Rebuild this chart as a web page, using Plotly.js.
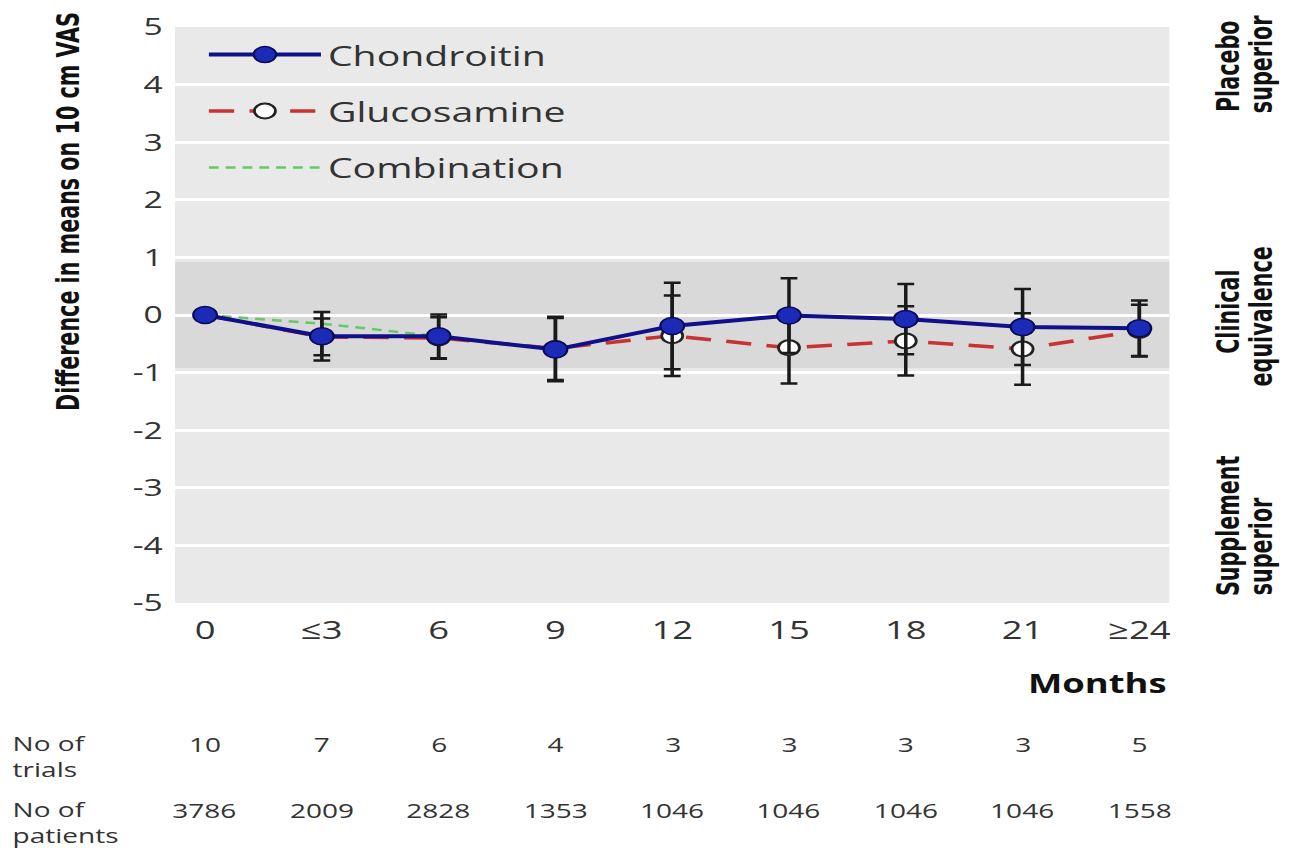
<!DOCTYPE html>
<html><head><meta charset="utf-8">
<script src="https://cdn.plot.ly/plotly-3.0.1.min.js"></script>
<style>
html,body{margin:0;padding:0;background:#fff;overflow:hidden;}
#wrap{width:1315px;height:848px;overflow:hidden;}
#chart{width:939px;height:848px;transform:scaleX(1.40043);transform-origin:0 0;}
</style></head><body><div id="wrap"><div id="chart"></div></div>
<script>
// ---- data ----
const monthLabels = ['0', '≤3', '6', '9', '12', '15', '18', '21', '≥24'];
const chondroitinMean = [0, -0.37, -0.37, -0.60, -0.19, -0.01, -0.07, -0.21, -0.23];
const chondroitinCI   = [0, 0.42, 0.38, 0.55, 0.75, 0.65, 0.61, 0.66, 0.48];
const glucosamineMean = [0, -0.38, -0.40, -0.58, -0.36, -0.57, -0.45, -0.59, -0.27];
const glucosamineCI   = [0, 0.32, 0.36, 0.55, 0.70, 0.62, 0.60, 0.62, 0.45];
const combinationMonths = ['0', '≤3', '6'];
const combinationMean = [0, -0.15, -0.37];
const trials   = [10, 7, 6, 4, 3, 3, 3, 3, 5];
const patients = [3786, 2009, 2828, 1353, 1046, 1046, 1046, 1046, 1558];
const yTickVals = [5, 4, 3, 2, 1, 0, -1, -2, -3, -4, -5];
const yTickText = ['5', '4', '3', '2', '1', '0', '-1', '-2', '-3', '-4', '-5'];

// ---- styles ----
const REG = "'Open Sans', 'Noto Sans', sans-serif";
const NARROW = "'Liberation Sans Narrow', 'DejaVu Sans Condensed', 'Arial Narrow', sans-serif";
const TXT = '#333333';

const traces = [
  {
    name: 'Combination', legendgroup: 'c', legendrank: 3, x: combinationMonths, y: combinationMean,
    type: 'scatter', mode: 'lines',
    line: {color: '#66c866', width: 2.5, dash: '7px,5px'}
  },
  {
    name: 'Glucosamine', legendgroup: 'b', legendrank: 2, x: monthLabels, y: glucosamineMean,
    type: 'scatter', mode: 'lines+markers',
    line: {color: '#c83232', width: 3.5, dash: '18px,11px'},
    marker: {symbol: 'circle', size: 15, color: '#ffffff', line: {color: '#222222', width: 2}},
    error_y: {type: 'data', array: glucosamineCI, visible: true, color: '#1a1a1a', thickness: 2.5, width: 6}
  },
  {
    name: 'Chondroitin', legendgroup: 'a', legendrank: 1, x: monthLabels, y: chondroitinMean,
    type: 'scatter', mode: 'lines+markers',
    line: {color: '#10108a', width: 4},
    marker: {symbol: 'circle', size: 17, color: '#1c2ab8', line: {color: '#0a0a55', width: 1.5}},
    error_y: {type: 'data', array: chondroitinCI, visible: true, color: '#1a1a1a', thickness: 2.5, width: 6}
  }
];

const ann = [];
// y axis title
ann.push({xref: 'paper', yref: 'paper', x: -0.1075, y: 0.68, xanchor: 'center', yanchor: 'middle',
  textangle: -90, showarrow: false,
  text: 'Difference in means on 10 cm VAS', font: {family: NARROW, size: 23, color: '#111', weight: 'bold'}});
// right side labels
const sideLabels = [
  ['Placebo', 1.059, 0.932], ['superior', 1.092, 0.936],
  ['Clinical', 1.059, 0.507], ['equivalence', 1.092, 0.498],
  ['Supplement', 1.059, 0.135], ['superior', 1.092, 0.099]
];
sideLabels.forEach(s => ann.push({xref: 'paper', yref: 'paper', x: s[1], y: s[2],
  xanchor: 'center', yanchor: 'middle', textangle: -90,
  showarrow: false, text: s[0], font: {family: NARROW, size: 23, color: '#111', weight: 'bold'}}));
// Months
ann.push({xref: 'paper', yref: 'paper', x: 0.9993, y: -0.139, xanchor: 'right', yanchor: 'middle', showarrow: false,
  text: 'Months', font: {family: REG, size: 26, color: '#111', weight: 'bold'}});
// table labels (two-line)
[['No of<br>trials', -0.2665], ['No of<br>patients', -0.381]].forEach(r =>
  ann.push({xref: 'paper', yref: 'paper', x: -0.166, y: r[1], xanchor: 'left', yanchor: 'middle',
    align: 'left', showarrow: false, text: r[0], font: {family: REG, size: 20, color: TXT}}));
monthLabels.forEach((m, i) => {
  ann.push({xref: 'x', yref: 'paper', x: i, y: -0.2465, xanchor: 'center', yanchor: 'middle', showarrow: false,
    text: String(trials[i]), font: {family: REG, size: 20, color: TXT}});
  ann.push({xref: 'x', yref: 'paper', x: i, y: -0.3594, xanchor: 'center', yanchor: 'middle', showarrow: false,
    text: String(patients[i]), font: {family: REG, size: 20, color: TXT}});
});

const layout = {
  width: 939, height: 848,
  margin: {l: 125, r: 103.5, t: 27, b: 245},
  paper_bgcolor: '#ffffff', plot_bgcolor: '#e9e9e9',
  showlegend: true,
  legend: {x: 0.027, y: 0.995, xanchor: 'left', yanchor: 'top', bgcolor: 'rgba(0,0,0,0)',
    traceorder: 'grouped', tracegroupgap: 17, itemwidth: 80,
    font: {family: REG, size: 28, color: TXT}},
  xaxis: {type: 'category', range: [-0.257, 8.257], showgrid: false, zeroline: false, showline: false,
    ticks: 'outside', ticklen: 4, tickcolor: 'rgba(0,0,0,0)', fixedrange: true,
    tickfont: {family: REG, size: 26, color: TXT}},
  yaxis: {range: [-5, 5.0], tickvals: yTickVals, ticktext: yTickText, showgrid: true,
    gridcolor: '#ffffff', gridwidth: 3, zeroline: false, showline: false,
    ticks: 'outside', ticklen: 3, tickcolor: 'rgba(0,0,0,0)',
    tickfont: {family: REG, size: 24, color: TXT}},
  shapes: [{type: 'rect', xref: 'paper', yref: 'y', x0: 0, x1: 1, y0: -0.92, y1: 0.92,
    fillcolor: '#d9d9d9', line: {width: 0}, layer: 'below'}],
  annotations: ann
};

Plotly.newPlot('chart', traces, layout, {displayModeBar: false, staticPlot: true});
</script>
</body></html>
